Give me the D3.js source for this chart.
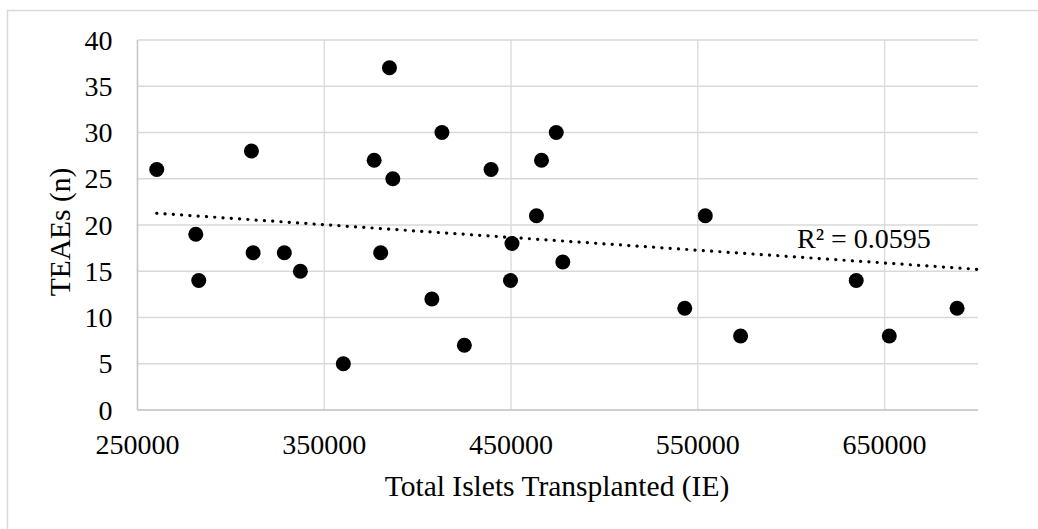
<!DOCTYPE html>
<html>
<head>
<meta charset="utf-8">
<script src="https://cdn.jsdelivr.net/npm/d3@7"></script>
<style>
  body { margin: 0; background: #fff; }
</style>
</head>
<body>
<div id="chart"></div>
<script>
// islets transplanted (IE) vs TEAEs
var islets = [260300, 281200, 282800, 311000, 311900, 328600, 337200, 360200,
  376700, 380200, 384900, 386700, 407600, 413000, 425000, 439300, 449700,
  450500, 463600, 466300, 474200, 477700, 543000, 554000, 572900, 634800,
  652500, 688800]
var teaes = [26, 19, 14, 28, 17, 17, 15, 5, 27, 17, 37, 25, 12, 30, 7, 26, 14,
  18, 21, 27, 30, 16, 11, 21, 8, 14, 8, 11]
var xTicks = [250000, 350000, 450000, 550000, 650000]
var yTicks = [0, 5, 10, 15, 20, 25, 30, 35, 40]
// trendline as drawn in the picture (y = a + b*x)
var trendIntercept = 24.86
var trendSlope = -0.0000138
var r2Label = 'R² = 0.0595'

var width = 1038
var height = 529
var margin = {top: 40, right: 60, bottom: 119, left: 137.5}
var grid = '#d9d9d9'

var svg = d3.select('#chart').append('svg')
    .attr('width', width)
    .attr('height', height)
    .attr('font-family', "'Liberation Serif'")

// chart frame (only top and left edges fall inside the picture)
svg.append('path')
    .attr('d', 'M7.5,' + height + 'V10.5H' + width)
    .attr('fill', 'none')
    .attr('stroke', grid)
    .attr('stroke-width', 1.5)

var x = d3.scaleLinear().domain([250000, 700000]).range([margin.left, width - margin.right])
var y = d3.scaleLinear().domain([0, 40]).range([height - margin.bottom, margin.top])

var g = svg.append('g')

// horizontal gridlines
g.selectAll('.hgrid')
    .data(yTicks)
  .enter().append('line')
    .attr('class', 'hgrid')
    .attr('x1', x(250000))
    .attr('x2', x(700000))
    .attr('y1', d => y(d))
    .attr('y2', d => y(d))
    .attr('stroke', grid)
    .attr('stroke-width', 1.3)

// vertical gridlines
g.selectAll('.vgrid')
    .data(xTicks)
  .enter().append('line')
    .attr('class', 'vgrid')
    .attr('x1', d => x(d))
    .attr('x2', d => x(d))
    .attr('y1', y(0))
    .attr('y2', y(40))
    .attr('stroke', grid)
    .attr('stroke-width', 1.3)

// axes lines
g.append('line')
    .attr('x1', x(250000)).attr('x2', x(700000))
    .attr('y1', y(0)).attr('y2', y(0))
    .attr('stroke', '#c8c8c8').attr('stroke-width', 1.5)
g.append('line')
    .attr('x1', x(250000)).attr('x2', x(250000))
    .attr('y1', y(0)).attr('y2', y(40))
    .attr('stroke', '#c8c8c8').attr('stroke-width', 1.5)

// tick labels
g.selectAll('.xlab')
    .data(xTicks)
  .enter().append('text')
    .attr('class', 'xlab')
    .attr('x', d => x(d))
    .attr('y', y(0) + 44)
    .attr('text-anchor', 'middle')
    .attr('font-size', '28px')
    .text(d => d)

g.selectAll('.ylab')
    .data(yTicks)
  .enter().append('text')
    .attr('class', 'ylab')
    .attr('x', x(250000) - 25)
    .attr('y', d => y(d) + 9.5)
    .attr('text-anchor', 'end')
    .attr('font-size', '28px')
    .text(d => d)

// axis titles
svg.append('text')
    .attr('x', 557)
    .attr('y', 496)
    .attr('text-anchor', 'middle')
    .attr('font-size', '29.5px')
    .text('Total Islets Transplanted (IE)')

svg.append('text')
    .attr('transform', 'translate(70,' + 232 + ') rotate(-90)')
    .attr('text-anchor', 'middle')
    .attr('font-size', '29.5px')
    .text('TEAEs (n)')

// dotted linear trendline
var pts = islets.map((v, i) => ({x: v, y: teaes[i]}))
var x0 = d3.min(islets)
var x1 = 700000

g.append('line')
    .attr('x1', x(x0))
    .attr('y1', y(trendIntercept + trendSlope * x0))
    .attr('x2', x(x1))
    .attr('y2', y(trendIntercept + trendSlope * x1))
    .attr('stroke', '#000')
    .attr('stroke-width', 3.2)
    .attr('stroke-linecap', 'round')
    .attr('stroke-dasharray', '0.1 8.2')

// points
g.selectAll('.dot')
    .data(pts)
  .enter().append('circle')
    .attr('class', 'dot')
    .attr('cx', d => x(d.x))
    .attr('cy', d => y(d.y))
    .attr('r', 7.5)
    .attr('fill', '#000')

// R squared label
svg.append('text')
    .attr('x', 797)
    .attr('y', 248)
    .attr('font-size', '28px')
    .text(r2Label)
</script>
</body>
</html>
